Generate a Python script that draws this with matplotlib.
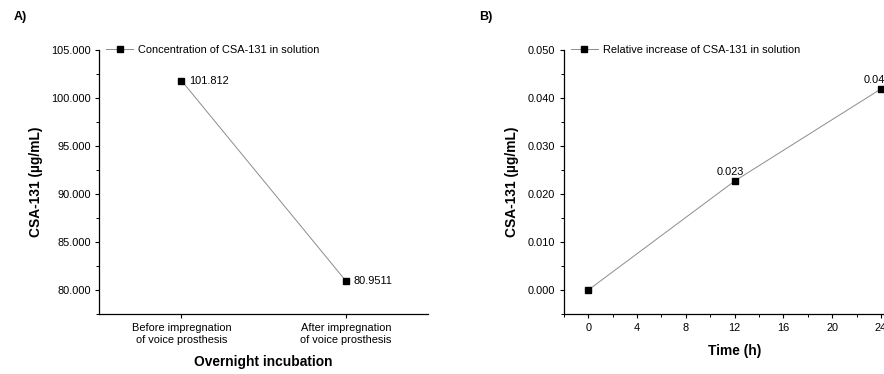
import matplotlib
matplotlib.use("Agg")
import matplotlib.pyplot as plt
from matplotlib.ticker import MultipleLocator, FormatStrFormatter

plt.rcParams['font.family'] = ['Liberation Sans', 'DejaVu Sans']

# Panel A data
categories_a = ["Before impregnation\nof voice prosthesis", "After impregnation\nof voice prosthesis"]
values_a = [101.812, 80.9511]
labels_a = ["101.812", "80.9511"]
legend_a = "Concentration of CSA-131 in solution"

# Panel B data
time_b = [0, 12, 24]
values_b = [0.0, 0.0227, 0.0419]
labels_b = ["", "0.023", "0.042"]
legend_b = "Relative increase of CSA-131 in solution"

W, H = 884, 374
fig = plt.figure(figsize=(W / 100, H / 100), dpi=100)

TS = 7.95
LS = 9.9

def style(ax):
    for s in ['top', 'right']:
        ax.spines[s].set_visible(False)
    for s in ['left', 'bottom']:
        ax.spines[s].set_linewidth(0.9)
    ax.tick_params(which='major', direction='out', length=3.2, width=0.8, labelsize=TS, pad=3)
    ax.tick_params(which='minor', direction='out', length=2.0, width=0.7)

# ---- Panel A ----
axA = fig.add_axes([99.3 / W, 1 - 314 / H, (428 - 99.3) / W, (314 - 50) / H])
xa = list(range(len(categories_a)))
axA.plot(xa, values_a, color='#8c8c8c', lw=0.7, marker='s', ms=4.3,
         mfc='black', mec='black', label=legend_a)
for x, v, t in zip(xa, values_a, labels_a):
    axA.annotate(t, (x, v), xytext=(5.5, 0), textcoords='offset points',
                 ha='left', va='center', fontsize=TS)
axA.set_xlim(-0.5, 1.5)
axA.set_ylim(77.5, 105)
axA.set_xticks(xa)
axA.set_xticklabels(categories_a, fontsize=TS, linespacing=1.35)
axA.yaxis.set_major_locator(MultipleLocator(5))
axA.yaxis.set_minor_locator(MultipleLocator(2.5))
axA.yaxis.set_major_formatter(FormatStrFormatter('%.3f'))
style(axA)
axA.set_ylabel("CSA-131 (µg/mL)", fontsize=LS, fontweight='bold', labelpad=6)
axA.set_xlabel("Overnight incubation", fontsize=LS, fontweight='bold', labelpad=7)
axA.legend(loc='center left', bbox_to_anchor=(0.0, 1.0), frameon=False,
           fontsize=TS, handlelength=2.4, handletextpad=0.45, borderpad=0,
           borderaxespad=0.65)
fig.text(14 / W, 1 - 17 / H, "A)", fontsize=9, fontweight='bold', ha='left', va='center')

# ---- Panel B ----
px0 = 588.3
ppu = (881 - 588.3) / 24
left_b = px0 - 2 * ppu
right_b = px0 + 26 * ppu
axB = fig.add_axes([left_b / W, 1 - 314 / H, (right_b - left_b) / W, (314 - 50) / H])
axB.plot(time_b, values_b, color='#8c8c8c', lw=0.7, marker='s', ms=4.3,
         mfc='black', mec='black', label=legend_b, clip_on=False)
for x, v, t in zip(time_b, values_b, labels_b):
    if t:
        axB.annotate(t, (x, v), xytext=(-3, 3), textcoords='offset points',
                     ha='center', va='bottom', fontsize=TS)
axB.set_xlim(-2, 26)
axB.set_ylim(-0.005, 0.050)
axB.xaxis.set_major_locator(MultipleLocator(4))
axB.xaxis.set_minor_locator(MultipleLocator(2))
axB.yaxis.set_major_locator(MultipleLocator(0.01))
axB.yaxis.set_minor_locator(MultipleLocator(0.005))
axB.yaxis.set_major_formatter(FormatStrFormatter('%.3f'))
axB.set_xticks([0, 4, 8, 12, 16, 20, 24])
style(axB)
axB.set_ylabel("CSA-131 (µg/mL)", fontsize=LS, fontweight='bold', labelpad=6)
axB.set_xlabel("Time (h)", fontsize=LS, fontweight='bold', labelpad=8)
axB.legend(loc='center left', bbox_to_anchor=(0.0, 1.0), frameon=False,
           fontsize=TS, handlelength=2.4, handletextpad=0.45, borderpad=0,
           borderaxespad=0.65)
fig.text(479 / W, 1 - 17 / H, "B)", fontsize=9, fontweight='bold', ha='left', va='center')

fig.savefig("out.png", dpi=100)
